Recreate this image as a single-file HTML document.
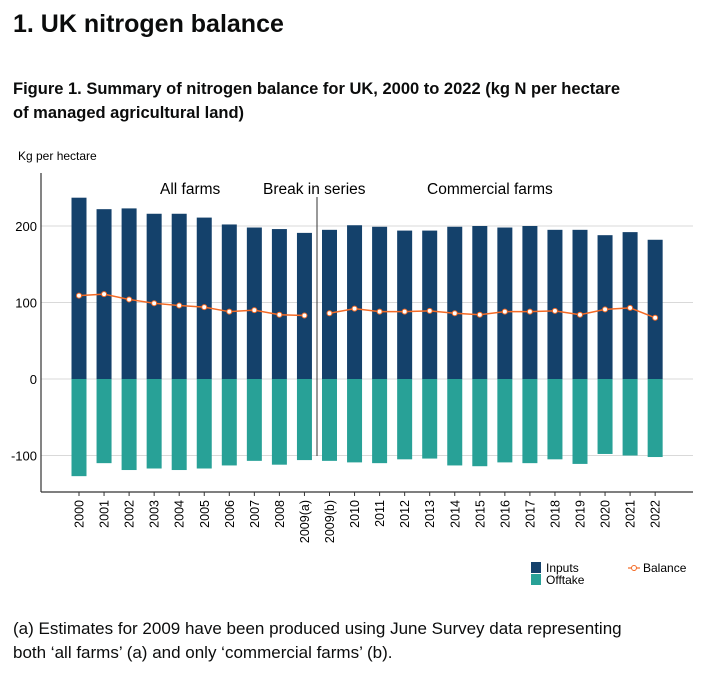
<!DOCTYPE html>
<html><head><meta charset="utf-8"><style>
body{margin:0;background:#fff;font-family:"Liberation Sans",sans-serif;color:#0b0c0c}
h1{position:absolute;left:13px;top:10px;margin:0;font-size:25px;font-weight:bold}
h2{position:absolute;left:13px;top:77px;margin:0;font-size:16.5px;font-weight:bold;line-height:24px;width:680px}
.note{position:absolute;left:13px;top:617px;font-size:17px;line-height:24px;width:640px}
</style></head><body>
<h1>1. UK nitrogen balance</h1>
<h2>Figure 1. Summary of nitrogen balance for UK, 2000 to 2022 (kg N per hectare<br>of managed agricultural land)</h2>
<svg id="chart" width="702" height="600" style="position:absolute;left:0;top:0" font-family="Liberation Sans, sans-serif"></svg>
<div class="note">(a) Estimates for 2009 have been produced using June Survey data representing both ‘all farms’ (a) and only ‘commercial farms’ (b).</div>
<script>
const categories=["2000","2001","2002","2003","2004","2005","2006","2007","2008","2009(a)","2009(b)","2010","2011","2012","2013","2014","2015","2016","2017","2018","2019","2020","2021","2022"];
const inputs=[237,222,223,216,216,211,202,198,196,191,195,201,199,194,194,199,200,198,200,195,195,188,192,182];
const offtake=[-127,-110,-119,-117,-119,-117,-113,-107,-112,-106,-107,-109,-110,-105,-104,-113,-114,-109,-110,-105,-111,-98,-100,-102];
const balance=[109,111,104,99,96,94,88,90,84,83,86,92,88,88,89,86,84,88,88,89,84,91,93,80];
const yTicks=[-100,0,100,200];
const NS="http://www.w3.org/2000/svg",svg=document.getElementById('chart');
function y(v){return 379-v*0.765;}
function x(i){return 79+i*25.05;}
function mk(t,a,p){const e=document.createElementNS(NS,t);for(const k in a)e.setAttribute(k,a[k]);(p||svg).appendChild(e);return e;}
let t=mk('text',{x:18,y:160,'font-size':12});t.textContent='Kg per hectare';


yTicks.forEach(v=>{const g=mk('line',{x1:41,x2:693,y1:y(v),y2:y(v),stroke:'#d9d9d9','stroke-width':1});


const l=mk('text',{x:37,y:y(v)+5,'text-anchor':'end','font-size':13});l.textContent=v;

});
categories.forEach((c,i)=>{
const b=mk('rect',{x:x(i)-7.5,y:y(inputs[i]),width:15,height:y(0)-y(inputs[i]),fill:'#14416b'});


const o=mk('rect',{x:x(i)-7.5,y:y(0),width:15,height:y(offtake[i])-y(0),fill:'#28a197'});


mk('line',{x1:x(i),x2:x(i),y1:492,y2:496,stroke:'#333'});
const l=mk('text',{transform:`translate(${x(i)+4.5},500) rotate(-90)`,'text-anchor':'end','font-size':12.5});l.textContent=c;

});
function line(a,b){let d='';for(let i=a;i<=b;i++)d+=(i==a?'M':'L')+x(i)+','+y(balance[i]);const p=mk('path',{d,fill:'none',stroke:'#f46a25','stroke-width':1.5});

}
line(0,9);line(10,23);
balance.forEach((v,i)=>{const c=mk('circle',{cx:x(i),cy:y(v),r:2.5,fill:'#fff',stroke:'#f46a25','stroke-width':1});

});
mk('line',{x1:41,x2:41,y1:173,y2:492,stroke:'#333','stroke-width':1.2});
mk('line',{x1:41,x2:693,y1:492,y2:492,stroke:'#333','stroke-width':1.2});
mk('line',{x1:317,x2:317,y1:197,y2:456,stroke:'#333','stroke-width':1});
[['All farms',160],['Break in series',263],['Commercial farms',427]].forEach(([s,px])=>{const e=mk('text',{x:px,y:194,'font-size':15.5});e.textContent=s;

});
mk('rect',{x:531,y:562,width:10,height:11,fill:'#14416b'});
mk('rect',{x:531,y:574,width:10,height:11,fill:'#28a197'});
let e=mk('text',{x:546,y:572,'font-size':12});e.textContent='Inputs';


e=mk('text',{x:546,y:584,'font-size':12});e.textContent='Offtake';


mk('line',{x1:628,x2:640,y1:568,y2:568,stroke:'#f46a25','stroke-width':1.2});
mk('circle',{cx:634,cy:568,r:2.5,fill:'#fff',stroke:'#f46a25'});
e=mk('text',{x:643,y:572,'font-size':12});e.textContent='Balance';


</script>
</body></html>
